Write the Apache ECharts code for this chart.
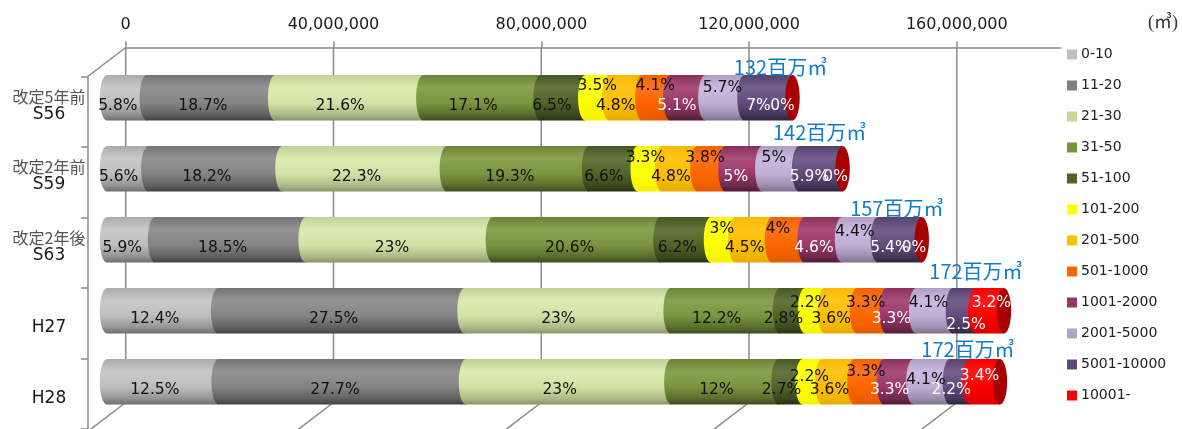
<!DOCTYPE html>
<html>
<head>
<meta charset="utf-8">
<style>html,body{margin:0;padding:0;background:#fff}#c{width:1182px;height:429px}</style>
<script src="https://cdn.jsdelivr.net/npm/echarts@6/dist/echarts.min.js"></script>
</head>
<body>
<div id="c"></div>
<script>
// ---------- data ----------
const years = ['S56', 'S59', 'S63', 'H27', 'H28'];
const yearNotes = ['改定5年前', '改定2年前', '改定2年後', '', ''];
const totals = [132100000, 141900000, 156700000, 172500000, 171900000];
const totalLabels = ['132百万㎥', '142百万㎥', '157百万㎥', '172百万㎥', '172百万㎥'];
const sizeClasses = ['0-10','11-20','21-30','31-50','51-100','101-200','201-500','501-1000','1001-2000','2001-5000','5001-10000','10001-'];
const share0_10      = [5.8, 5.6, 5.9, 12.4, 12.5];
const share11_20     = [18.7, 18.2, 18.5, 27.5, 27.7];
const share21_30     = [21.6, 22.3, 23, 23, 23];
const share31_50     = [17.1, 19.3, 20.6, 12.2, 12];
const share51_100    = [6.5, 6.6, 6.2, 2.8, 2.7];
const share101_200   = [3.5, 3.3, 3, 2.2, 2.2];
const share201_500   = [4.8, 4.8, 4.5, 3.6, 3.6];
const share501_1000  = [4.1, 3.8, 4, 3.3, 3.3];
const share1001_2000 = [5.1, 5, 4.6, 3.3, 3.3];
const share2001_5000 = [5.7, 5, 4.4, 4.1, 4.1];
const share5001_10000= [7, 5.9, 5.4, 2.5, 2.2];
const share10001     = [0, 0, 0, 3.2, 3.4];
const shares = [share0_10, share11_20, share21_30, share31_50, share51_100, share101_200,
  share201_500, share501_1000, share1001_2000, share2001_5000, share5001_10000, share10001];
const tickValues = [0, 40000000, 80000000, 120000000, 160000000];

// ---------- style ----------
const colors = ['#c0c0c0','#808080','#c3d69b','#77933c','#4f6228','#ffff00','#ffc000','#ff6600','#953565','#b3a2c7','#604a7b','#ff0000'];
const barColors = ['#c4c4c4','#888888','#d8e9aa','#7d9a40','#536829','#ffff00','#ffc000','#ff6600','#a03a6c','#c4b2dc','#644e80','#ff0000'];
const shadeDepth = [0.85, 1, 0.7, 1, 1, 0.1, 0.2, 0.25, 1, 0.7, 1, 0.3];
const labelColors = ['#111','#111','#111','#111','#111','#111','#111','#111','#fff','#111','#fff','#fff'];
const LINE = '#8a8a8a';
const AXIS_MAX = 180000000, PLOT_W = 935, WALL_H = 355;
const DEPTH_X = 38, DEPTH_Y = 29, BAR_H = 45.5, CAP_RX = 7.2;
const FONT = '"DejaVu Sans", sans-serif';
const CJK = '"Noto Sans CJK JP", sans-serif';
// Hand-placed data label nudges [dx, dy] from each segment's centre, by bar and size class.
const labelNudge = [
 [[-9,7],[-8,7],[-9,7],[-9,7],[-11,7],[0,-13],[-10,7],[-1,-13],[-11,7],[-2.4,-11],[-10,7],[-10,7]],
 [[-9,6.5],[-8.4,6.5],[-8,6.5],[-8,6.5],[-9.5,6.5],[-4.4,-12],[-8.8,6.5],[-6.5,-12],[-8,6.5],[-6.8,-12],[-11.4,6.5],[-7,6.5]],
 [[-8.7,6.5],[-7.6,6.5],[-7.3,6.5],[-7,6.5],[-8.4,6.5],[-1.3,-12.8],[-9,6.5],[-10.3,-12],[-9.3,6.5],[-5,-9],[-9.8,6.5],[-7.8,6.5]],
 [[-7.8,6.5],[-7.7,6.5],[-9.2,6.5],[-8.6,6.5],[-9,6.5],[-5.3,-9.5],[-9.6,6.5],[-6,-9.5],[-10,6.5],[-6,-9.5],[2,12.5],[1.8,-9.5]],
 [[-8,6.5],[-7.3,6.5],[-9,6.5],[-8.5,6.5],[-9,6.5],[-3,-6],[-8.8,6.5],[-3.2,-11.7],[-9,6.5],[-5.7,-3.7],[-8.5,6.5],[-5.2,-7.7]]
];
const totalNudge = [[-12,-30],[-23,-36],[-25,-31],[-28,-39],[-32,-32]];

// k > 0 darkens toward black, k < 0 lightens toward white
function shade(hex, k) {
  const rgb = [1, 3, 5].map(i => parseInt(hex.slice(i, i + 2), 16));
  const out = rgb.map(v => Math.round(k > 0 ? v * (1 - k) : v + (255 - v) * -k));
  return 'rgb(' + out.join(',') + ')';
}
const gradient = (c, d) => new echarts.graphic.LinearGradient(0,0,0,1,[
  {offset:0, color: shade(c, 0.15 * d)},
  {offset:0.28, color: shade(c, -0.1)},
  {offset:0.62, color: shade(c, 0.04 * d)},
  {offset:0.86, color: shade(c, 0.28 * d)},
  {offset:1, color: shade(c, 0.52 * d)}
]);

function segmentPoints(x1, x2, cy) {
  const ry = BAR_H / 2, pts = [[x2, cy - ry], [x2, cy + ry]];
  for (let i = 0; i <= 32; i++) {
    const t = Math.PI / 2 + Math.PI * i / 32;
    pts.push([x1 + CAP_RX * Math.cos(t), cy + ry * Math.sin(t)]);
  }
  return pts;
}

const segmentSeries = sizeClasses.map((name, si) => ({
  name, type: 'custom', xAxisIndex: 1, yAxisIndex: 1, silent: true, clip: false,
  itemStyle: {color: colors[si]},
  encode: {x: [1, 2], y: 0},
  data: years.map((y, b) => {
    const sum = shares.slice(0, si).reduce((a, s) => a + s[b], 0);
    return [b, sum / 100 * totals[b], (sum + shares[si][b]) / 100 * totals[b], shares[si][b]];
  }),
  renderItem(params, api) {
    const b = api.value(0), start = api.coord([api.value(1), b]), end = api.coord([api.value(2), b]);
    const kids = [];
    if (api.value(3) > 0) {
      kids.push({type:'polygon', z2: si + 1, shape:{points: segmentPoints(start[0], end[0], start[1])},
        style:{fill: gradient(barColors[si], shadeDepth[si])}});
    }
    if (si === sizeClasses.length - 1) {
      kids.push({type:'ellipse', z2: 20, shape:{cx:end[0], cy:end[1], rx:CAP_RX, ry:BAR_H/2},
        style:{fill:'#a80000'}});
    }
    const n = labelNudge[b][si];
    kids.push({type:'text', z2: 100, x:(start[0]+end[0])/2 + n[0], y:start[1] + n[1] + 1.5,
      style:{text: api.value(3) + '%', fill: labelColors[si], font:'15.5px ' + FONT, textAlign:'center', textVerticalAlign:'middle'}});
    return {type:'group', children:kids};
  }
}));

const totalSeries = {
  type:'custom', xAxisIndex:1, yAxisIndex:1, silent:true, clip:false,
  encode:{x:1, y:0},
  data: years.map((y,b)=>[b, shares.reduce((a,s)=>a+s[b],0)/100*totals[b]]),
  renderItem(params, api){
    const b = api.value(0), p = api.coord([api.value(1), b]), n = totalNudge[b];
    return {type:'text', z2:110, x:p[0]+n[0], y:p[1]+n[1],
      style:{text:totalLabels[b], fill:'#0f7cc6', font:'20px ' + CJK, textAlign:'center', textVerticalAlign:'middle'}};
  }
};

const wallSeries = {
  type:'custom', xAxisIndex:0, yAxisIndex:0, silent:true, clip:false,
  encode:{x:0},
  data: tickValues.map(v=>[v]),
  renderItem(params, api){
    const x = api.coord([api.value(0), 0])[0], c = params.coordSys, bottom = c.y + c.height;
    const style = {stroke:LINE, lineWidth:1.5};
    const kids = [
      {type:'line', z2:0, shape:{x1:x, y1:c.y, x2:x, y2:bottom}, style},
      {type:'line', z2:0, shape:{x1:x, y1:bottom, x2:x-DEPTH_X, y2:bottom+DEPTH_Y}, style}
    ];
    if (params.dataIndex === 0) {
      kids.push({type:'line', z2:0, shape:{x1:x, y1:c.y, x2:x-DEPTH_X, y2:c.y+DEPTH_Y}, style});
    }
    return {type:'group', children:kids};
  }
};

const chart = echarts.init(document.getElementById('c'), null, {renderer:'canvas'});
chart.setOption({
  animation:false,
  backgroundColor:'#fff',
  title:{text:'(㎥)', left:1148, top:14, padding:0, textStyle:{fontFamily:'"Liberation Serif", ' + CJK, fontSize:18, fontWeight:'normal', color:'#333'}},
  legend:{
    orient:'vertical', left:1067, top:46, padding:0, itemWidth:10, itemHeight:10, itemGap:14, icon:'rect',
    data:sizeClasses, selectedMode:false,
    textStyle:{fontFamily:FONT, fontSize:14, color:'#222', padding:[0,0,0,-1], lineHeight:17}
  },
  grid:[
    {left:125.7, top:47.5, width:PLOT_W, height:WALL_H},
    {left:107, top:62.3, width:PLOT_W, height:WALL_H},
    {left:88, top:76.5, width:PLOT_W, height:WALL_H}
  ],
  xAxis:[
    {gridIndex:0, type:'value', position:'top', min:0, max:AXIS_MAX, interval:40000000,
     axisLine:{show:true, lineStyle:{color:LINE, width:1.5}},
     axisTick:{show:true, length:6, lineStyle:{color:LINE, width:1.5}, customValues:tickValues},
     axisLabel:{fontFamily:FONT, fontSize:16, color:'#1a1a1a', margin:15, customValues:tickValues, formatter:v=>v.toLocaleString('en-US')},
     splitLine:{show:false}},
    {gridIndex:1, type:'value', min:0, max:AXIS_MAX, show:false},
    {gridIndex:2, type:'value', min:0, max:AXIS_MAX, show:false}
  ],
  yAxis:[
    {gridIndex:0, type:'category', inverse:true, data:years, show:false},
    {gridIndex:1, type:'category', inverse:true, data:years, show:false},
    {gridIndex:2, type:'category', inverse:true, data:years,
     axisLine:{show:true, onZero:false, lineStyle:{color:LINE, width:1.5}},
     axisTick:{show:true, length:7, lineStyle:{color:LINE, width:1.5}},
     axisLabel:{margin:39, align:'center',
       formatter:(v,i)=> yearNotes[i] ? '{n|'+yearNotes[i]+'}\n{y|'+v+'}\n{e| }' : '{s| }\n{y|'+v+'}',
       rich:{n:{fontFamily:CJK, fontSize:16, color:'#555', lineHeight:17},
             y:{fontFamily:FONT, fontSize:17, color:'#1a1a1a', lineHeight:18},
             e:{fontSize:10, lineHeight:12},
             s:{fontSize:4, lineHeight:9}}}}
  ],
  series:[wallSeries, ...segmentSeries, totalSeries]
});
</script>
</body>
</html>
